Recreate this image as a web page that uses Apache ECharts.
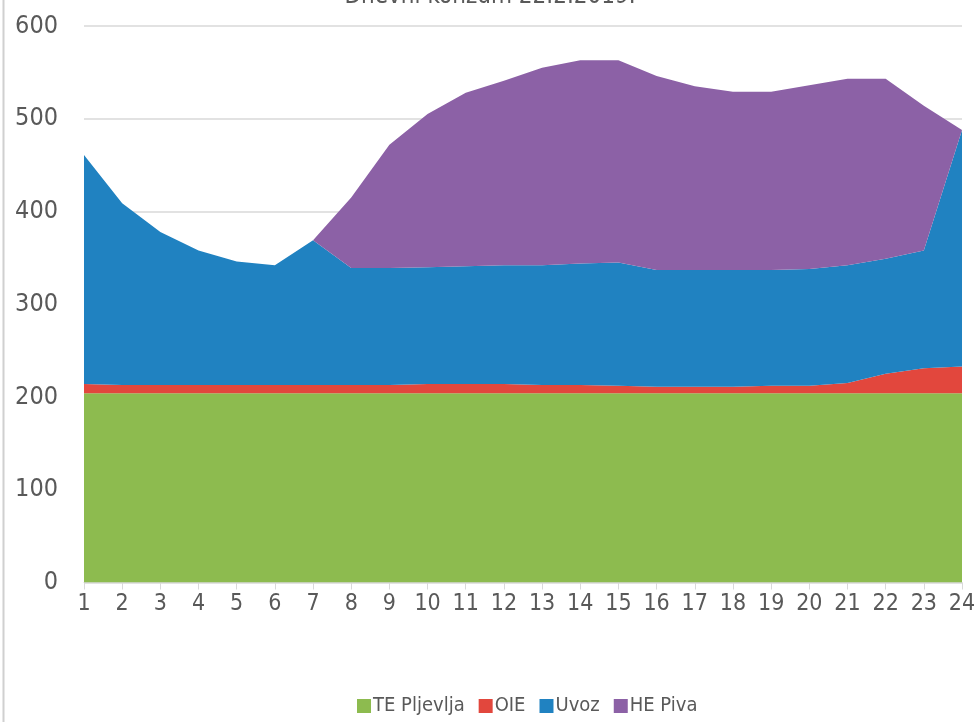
<!DOCTYPE html>
<html>
<head>
<meta charset="utf-8">
<script src="https://cdn.jsdelivr.net/npm/echarts@6/dist/echarts.min.js"></script>
<style>
  html, body { margin: 0; padding: 0; background: #fff; }
  #chart { width: 980px; height: 722px; }
</style>
</head>
<body>
<div id="chart"></div>
<script>
  // hours of the day
  const hours = ['1', '2', '3', '4', '5', '6', '7', '8', '9', '10', '11', '12',
    '13', '14', '15', '16', '17', '18', '19', '20', '21', '22', '23', '24']

  // MW per source, stacked bottom to top
  const tePljevlja = [204, 204, 204, 204, 204, 204, 204, 204, 204, 204, 204, 204,
    204, 204, 204, 204, 204, 204, 204, 204, 204, 204, 204, 204]
  const oie = [10, 9, 9, 9, 9, 9, 9, 9, 9, 10, 10, 10,
    9, 9, 8, 7, 7, 7, 8, 8, 11, 21, 27, 29]
  const uvoz = [247, 196, 165, 145, 133, 129, 156, 126, 126, 126, 127, 128,
    129, 131, 133, 126, 126, 126, 125, 126, 127, 124, 127, 255]
  const hePiva = [0, 0, 0, 0, 0, 0, 0, 76, 133, 165, 187, 199,
    213, 219, 218, 209, 198, 192, 192, 198, 201, 194, 156, 0]

  const yTicks = [0, 100, 200, 300, 400, 500, 600]

  const font = "'DejaVu Sans Condensed', 'Liberation Sans Narrow', Roboto, sans-serif"

  const chart = echarts.init(document.getElementById('chart'))

  const areaSeries = (name, data, color) => ({
    name: name,
    type: 'line',
    stack: 'total',
    data: data,
    symbol: 'none',
    lineStyle: { width: 0 },
    areaStyle: { color: color, opacity: 1 },
    itemStyle: { color: color }
  })

  const option = {
    animation: false,
    textStyle: { fontFamily: font },
    title: {
      text: 'Dnevni konzum 22.2.2019.',
      left: 'center',
      top: -20,
      textStyle: { fontSize: 24, fontWeight: 'normal', color: '#595959', fontFamily: font }
    },
    graphic: [
      { type: 'line', shape: { x1: 3.5, y1: 0, x2: 3.5, y2: 722 }, style: { stroke: '#d0d0d0', lineWidth: 2 } }
    ],
    legend: {
      left: 352,
      bottom: 1,
      icon: 'rect',
      itemWidth: 14,
      itemHeight: 14,
      itemGap: 14,
      textStyle: { fontSize: 20, color: '#595959', fontFamily: font, padding: [0, 0, 0, -3] },
      data: ['TE Pljevlja', 'OIE', 'Uvoz', 'HE Piva']
    },
    grid: { left: 84, right: 18, top: 26, bottom: 139.5 },
    xAxis: {
      type: 'category',
      boundaryGap: false,
      data: hours,
      axisLine: { show: true, lineStyle: { color: '#d9d9d9' } },
      axisTick: { show: true, alignWithLabel: true, length: 7, lineStyle: { color: '#d9d9d9' } },
      axisLabel: { interval: 0, fontSize: 23, color: '#595959', margin: 10, fontFamily: font }
    },
    yAxis: {
      type: 'value',
      min: yTicks[0],
      max: yTicks[yTicks.length - 1],
      interval: 100,
      axisLine: { show: false },
      axisTick: { show: false },
      splitLine: { lineStyle: { color: '#d9d9d9', width: 1.5 } },
      axisLabel: { fontSize: 25, color: '#595959', margin: 26, fontFamily: font }
    },
    series: [
      areaSeries('TE Pljevlja', tePljevlja, '#8dbb4f'),
      areaSeries('OIE', oie, '#e2473d'),
      areaSeries('Uvoz', uvoz, '#2082c1'),
      areaSeries('HE Piva', hePiva, '#8c61a6')
    ]
  }

  chart.setOption(option)
  window.addEventListener('resize', () => chart.resize())
</script>
</body>
</html>
